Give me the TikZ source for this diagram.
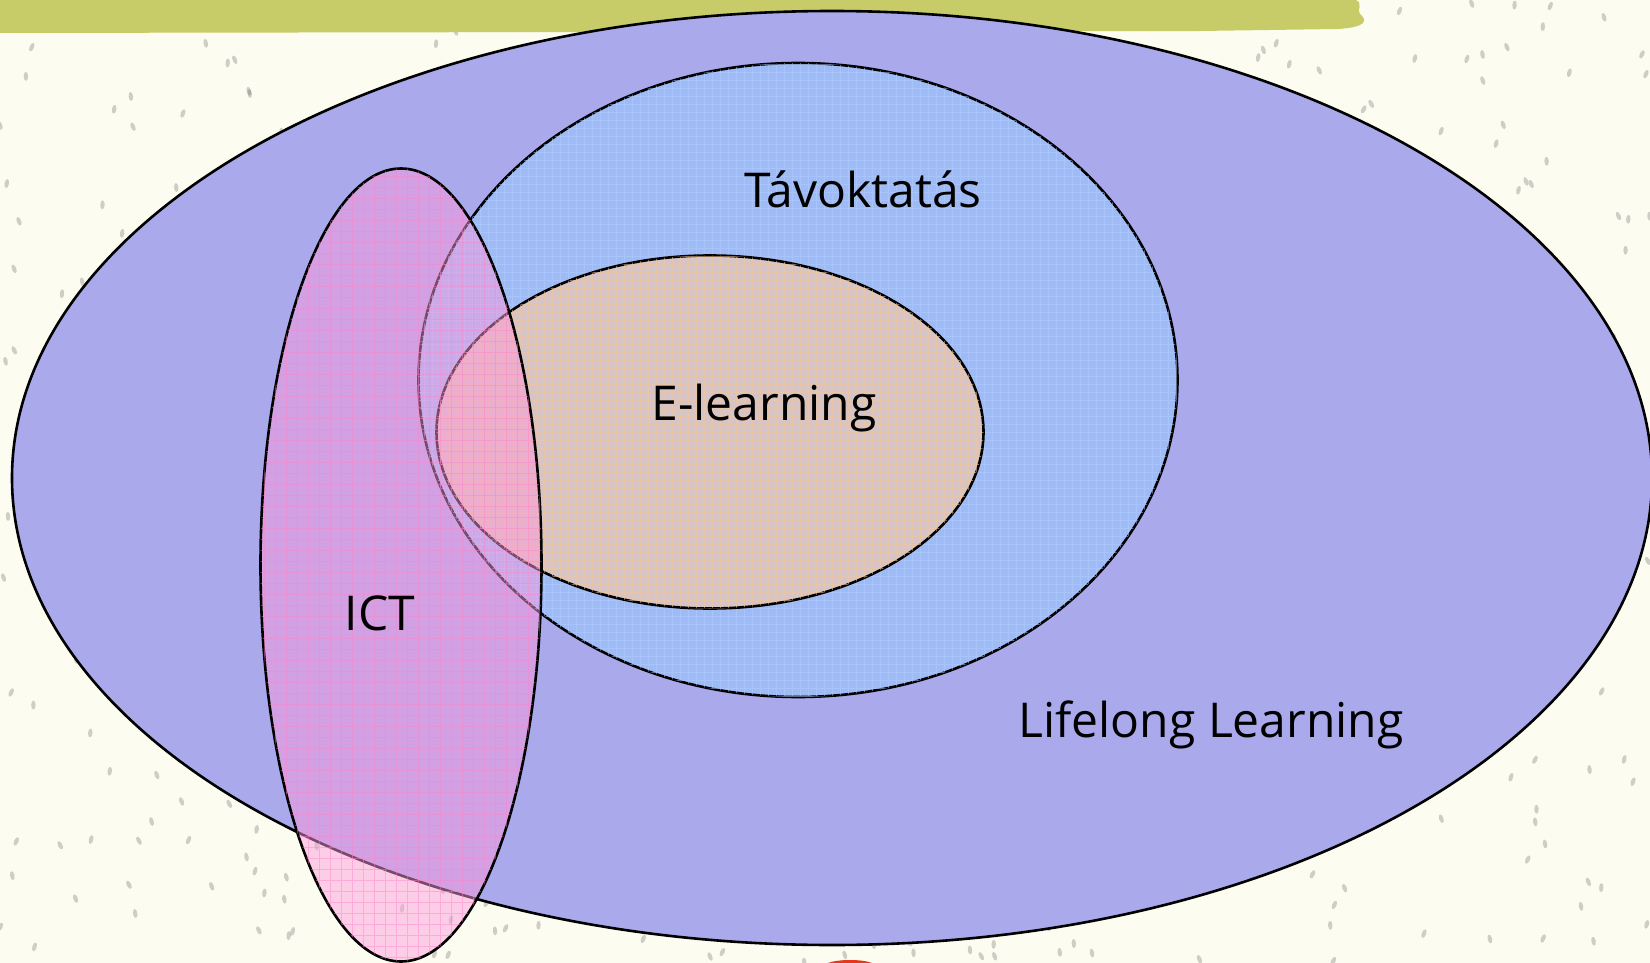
\documentclass[tikz,border=0pt]{standalone}
\usepackage{fontspec}
\setmainfont{Open Sans}
\usetikzlibrary{shapes.geometric, positioning}
\definecolor{paper}{RGB}{252,252,241}
\definecolor{brush}{RGB}{200,204,104}
\definecolor{lllfill}{RGB}{169,169,235}
\definecolor{tavfill}{RGB}{158,187,245}
\definecolor{tavgrid}{RGB}{178,206,255}
\definecolor{elfill}{RGB}{213,196,200}
\definecolor{elgrid}{RGB}{246,196,150}
\definecolor{ictfill}{RGB}{255,152,219}
\definecolor{ictgrid}{RGB}{255,130,200}
\tikzset{
  % Venn set style
  vset/.style={
    ellipse, draw=black, line width=1.3pt, inner sep=0pt
  },
  % set label style
  vlbl/.style={anchor=base, font=\fontsize{24}{28}\selectfont, text=black},
}

\begin{document}
\begin{tikzpicture}[x=0.5pt, y=-0.5pt]
  \useasboundingbox (0,0) rectangle (1650,963);
  \fill[paper] (0,0) rectangle (1650,963);
  % speckled paper
  \pgfmathsetseed{7}
  \foreach \k in {1,...,650}{
    \pgfmathsetmacro{\sx}{rnd*1650}
    \pgfmathsetmacro{\sy}{rnd*963}
    \pgfmathsetmacro{\sr}{rnd*60-30}
    \fill[gray!80!black, opacity=0.3, rotate around={\sr:(\sx,\sy)}] (\sx,\sy) ellipse [x radius=2.2, y radius=4.5];
  }
  % brush stroke on top
  \fill[brush] (0,0) -- (1356,0) .. controls (1364,4) and (1356,10) .. (1360,14)
    .. controls (1367,20) and (1368,27) .. (1338,29) -- (1200,31) -- (0,33) -- cycle;
  \fill[red!55!brown] (828,963) .. controls (838,959) and (862,959) .. (872,963) -- cycle;

  \node[vset, fill=lllfill, minimum width=820pt, minimum height=467pt] (lll) at (832,478) {};
  \node[vset, fill=tavfill, minimum width=379.5pt, minimum height=317pt] (tav) at (798,380) {};
  \begin{scope}
    \clip (tav.center) ellipse [x radius=379.5, y radius=317];
    \draw[tavgrid, opacity=0.5, line width=0.3pt, step=4pt] (400,50) grid (1200,720);
  \end{scope}
  \node[vset, fill=elfill, minimum width=273.5pt, minimum height=176.5pt] (el) at (710,432) {};
  \begin{scope}
    \clip (el.center) ellipse [x radius=273.5, y radius=176.5];
    \draw[elgrid, opacity=0.55, line width=0.3pt, step=4pt] (420,240) grid (1000,620);
  \end{scope}
  \node[vset, fill=ictfill, fill opacity=0.48, minimum width=140.5pt, minimum height=396.5pt] (ict) at (401,565) {};
  \begin{scope}
    \clip (ict.center) ellipse [x radius=140.5, y radius=396.5];
    \draw[ictgrid, opacity=0.45, line width=0.35pt, step=5.5pt] (250,160) grid (560,970);
  \end{scope}

  \node[vlbl] (tavlbl) at (863,207) {Távoktatás};
  \node[vlbl] (ellbl) at (764,420) {E-learning};
  \node[vlbl] (ictlbl) at (380,630) {ICT};
  \node[vlbl] (llllbl) at (1211,737) {Lifelong Learning};
\end{tikzpicture}
\end{document}
